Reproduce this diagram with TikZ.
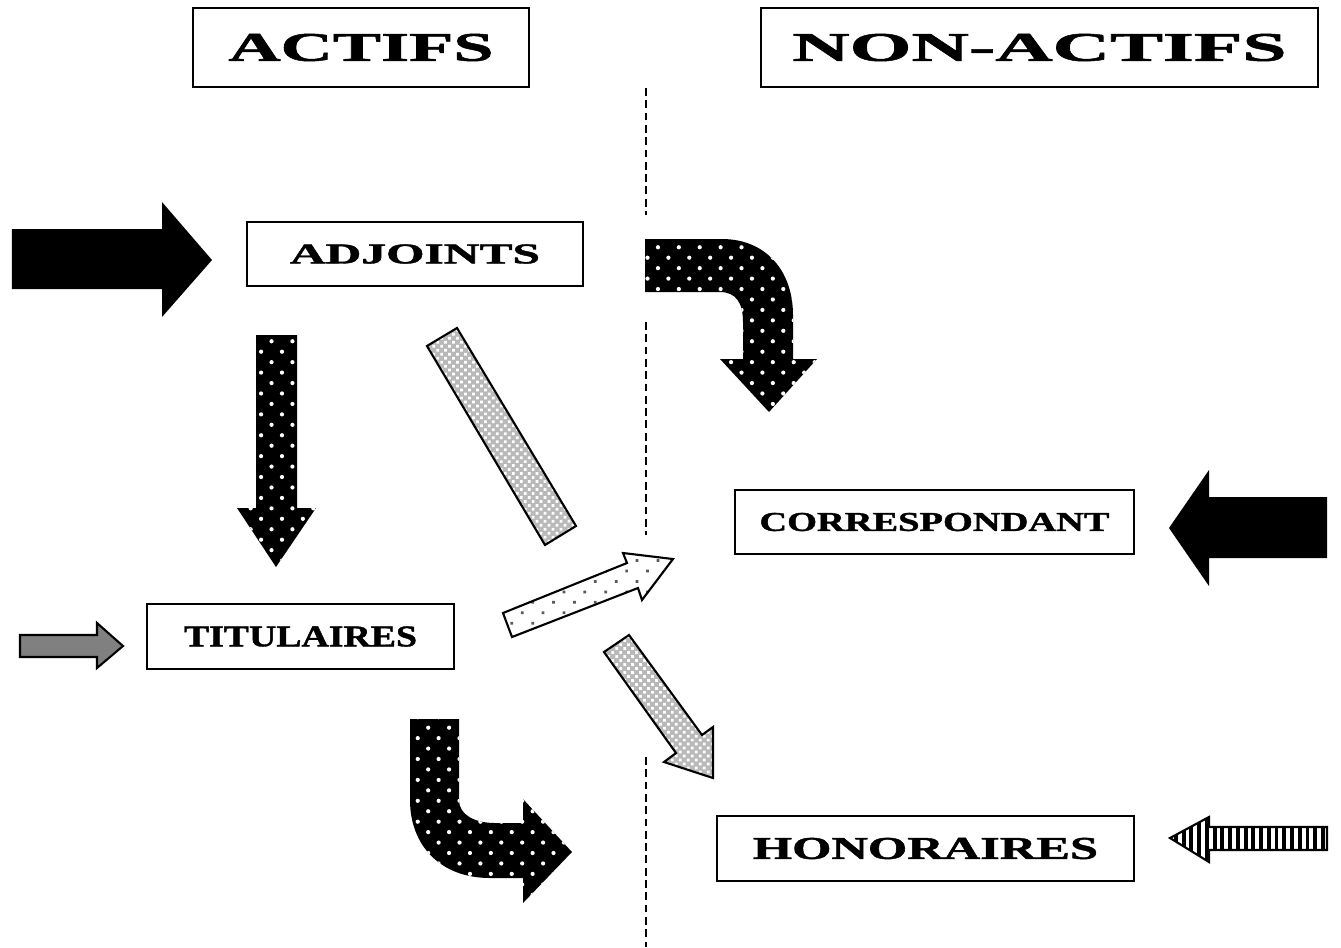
\documentclass[tikz,border=0pt]{standalone}
\usepackage{fontspec}
\setmainfont{Liberation Serif}[BoldFeatures={FakeBold=1.2}]
\usetikzlibrary{patterns.meta}

\newcommand{\boxtext}[3]{\resizebox{#1cm}{#2cm}{\bfseries #3}}

\tikzset{
  lbox/.style={draw, line width=0.6pt, inner sep=0pt},
  blackdots/.style={preaction={fill=black}, pattern={Dots[radius=0.6pt, distance=4.2pt, angle=45]}, pattern color=white},
  greydots/.style={draw, line width=0.6pt, preaction={fill=white}, pattern={Dots[radius=0.55pt, distance=4.2pt, angle=45]}, pattern color=gray!70!black},
  checker/.style={draw, line width=0.6pt, preaction={fill=gray!55}, pattern={Dots[radius=0.55pt, distance=1.6pt, angle=45]}, pattern color=white},
  stripes/.style={draw, line width=0.6pt, preaction={fill=white}, pattern={Lines[angle=90, distance=2.2pt, line width=1.1pt]}, pattern color=black},
  midline/.style={dash pattern=on 2.2pt off 1.3pt, line width=0.5pt}
}

\begin{document}
\begin{tikzpicture}[x=0.01cm, y=-0.01cm]
	\useasboundingbox (0,0) rectangle (1341,947);
	
	% titles
	\node[lbox, minimum width=3.36cm, minimum height=0.79cm] (actifs) at (361,47.5) {\boxtext{2.65}{0.27}{ACTIFS}};
	\node[lbox, minimum width=5.57cm, minimum height=0.79cm] (nonactifs) at (1039.5,47.5) {\boxtext{4.94}{0.27}{NON-ACTIFS}};
	
	% categories
	\node[lbox, minimum width=3.36cm, minimum height=0.64cm] (adjoints) at (415,254) {\boxtext{2.50}{0.19}{ADJOINTS}};
	\node[lbox, minimum width=3.07cm, minimum height=0.65cm] (titulaires) at (300.5,636.5) {\boxtext{2.33}{0.20}{TITULAIRES}};
	\node[lbox, minimum width=3.99cm, minimum height=0.64cm] (corresp) at (934.5,522) {\boxtext{3.50}{0.18}{CORRESPONDANT}};
	\node[lbox, minimum width=4.17cm, minimum height=0.65cm] (honoraires) at (925.5,848.5) {\boxtext{3.45}{0.21}{HONORAIRES}};
	
	% dividing line
	\draw[midline] (646,88) -- (646,215);
	\draw[midline] (646,322) -- (646,535);
	\draw[midline] (646,757) -- (646,947);
	
	% entries
	\fill[black] (12,229) -- (162,229) -- (162,202) -- (212,260) -- (162,317) -- (162,289) -- (12,289) -- cycle;
	\draw[line width=0.6pt, fill=gray] (20,635) -- (97,635) -- (97,623) -- (123,646) -- (97,668) -- (97,657) -- (20,657) -- cycle;
	\fill[black] (1327,497) -- (1209,497) -- (1209,470) -- (1169,528) -- (1209,586) -- (1209,558) -- (1327,558) -- cycle;
	\path[stripes] (1327,827) -- (1209,827) -- (1209,817) -- (1170,838) -- (1209,862) -- (1209,850) -- (1327,850) -- cycle;
	
	% moves
	\path[blackdots] (256,335) -- (297,335) -- (297,508) -- (316,508) -- (276,567) -- (237,508) -- (256,508) -- cycle;
	\path[checker] (427,346) -- (457,328) -- (576,526) -- (545,545) -- cycle;
	\path[greydots] (503,613) -- (627,563) -- (623,553) -- (673,559) -- (642,600) -- (638,588) -- (512,637) -- cycle;
	\path[checker] (604,652) -- (629,635) -- (702,735) -- (713,727) -- (713,778) -- (664,762) -- (676,753) -- cycle;
	
	% curved moves
	\path[blackdots] (645,239) -- (722,239) .. controls (765,239) and (793,270) .. (793,315)
		-- (793,359) -- (817,359) -- (769,412) -- (720,359) -- (743,359) -- (743,322)
		.. controls (743,303) and (736,292) .. (720,292) -- (645,292) -- cycle;
	\path[blackdots] (410,719) -- (459,719) -- (459,800) .. controls (459,815) and (475,823) .. (495,823)
		-- (523,823) -- (523,799) -- (572,852) -- (523,903) -- (523,878) -- (490,878)
		.. controls (440,878) and (410,845) .. (410,800) -- cycle;
\end{tikzpicture}
\end{document}
